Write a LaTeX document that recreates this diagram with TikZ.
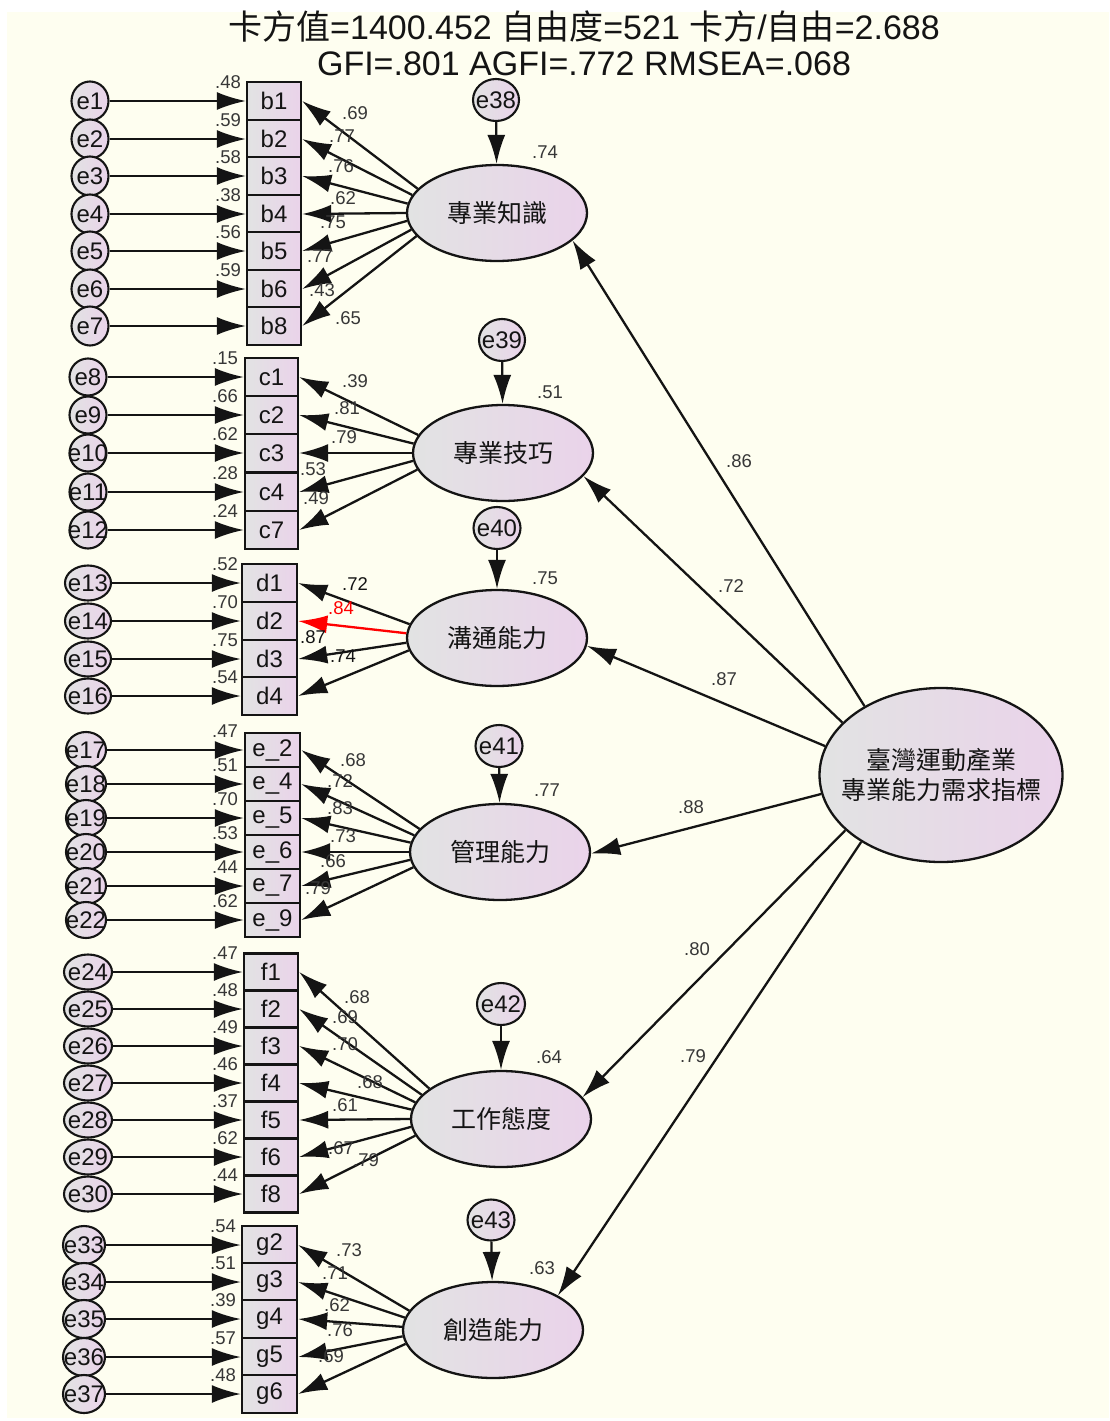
\documentclass[tikz,border=0pt]{standalone}
\usepackage{fontspec}
\setmainfont{Liberation Sans}
\newfontfamily\cjk{Noto Sans CJK TC}
\usetikzlibrary{shapes.geometric,arrows.meta}
\definecolor{paper}{HTML}{FEFEF0}
\definecolor{fillA}{HTML}{E2E3E3}
\definecolor{fillB}{HTML}{EAD3EA}
\definecolor{ink}{HTML}{141414}
\tikzset{
  link/.style={line width=2.3pt,draw=ink,-{Latex[length=29pt,width=18pt]}},
  num/.style={font=\fontsize{18.5}{18.5}\selectfont,text=ink!85,inner sep=0pt},
  obs/.style={draw=ink,line width=2.4pt,left color=fillA,right color=fillB,inner sep=0pt,font=\fontsize{24}{24}\selectfont,text=ink},
  errc/.style={ellipse,draw=ink,line width=2.1pt,left color=fillA,right color=fillB,inner sep=0pt,
    label={[font=\fontsize{24}{24}\selectfont,text=ink,inner sep=0pt]center:#1}},
  latent/.style={ellipse,draw=ink,line width=2.3pt,left color=fillA,right color=fillB,inner sep=0pt,
    minimum width=180,minimum height=96,font=\cjk\fontsize{25}{25}\selectfont,text=ink},
}
\begin{document}
\begin{tikzpicture}[x=1pt,y=-1pt]
\useasboundingbox (0,0) rectangle (1109,1421);
\fill[paper] (7,12) rectangle (1109,1418);

% title
\node[font=\fontsize{34}{34}\selectfont,text=ink] (title1) at (584,27) {{\cjk 卡方值}=1400.452 {\cjk 自由度}=521 {\cjk 卡方}/{\cjk 自由}=2.688};
\node[font=\fontsize{34}{34}\selectfont,text=ink] (title2) at (584,64) {GFI=.801 AGFI=.772 RMSEA=.068};

% second order factor
\node[ellipse,draw=ink,line width=2.3pt,left color=fillA,right color=fillB,minimum width=243,minimum height=174,inner sep=0pt] (G) at (941,775) {};
\node[font=\cjk\fontsize{25}{30}\selectfont,align=center,text=ink] (Gtxt) at (G) {臺灣運動產業\\專業能力需求指標};

% first order factors
\node[latent] (F1) at (497,213) {專業知識};
\node[latent] (F2) at (503,453) {專業技巧};
\node[latent] (F3) at (497,638) {溝通能力};
\node[latent] (F4) at (500,852) {管理能力};
\node[latent] (F5) at (501,1119) {工作態度};
\node[latent] (F6) at (493,1330) {創造能力};

\node[errc=e38,minimum width=46,minimum height=42] (e38) at (496,100) {};
\node[errc=e39,minimum width=46,minimum height=42] (e39) at (502,340) {};
\node[errc=e40,minimum width=47,minimum height=42] (e40) at (497,528) {};
\node[errc=e41,minimum width=47,minimum height=42] (e41) at (499,746) {};
\node[errc=e42,minimum width=48,minimum height=42] (e42) at (501,1004) {};
\node[errc=e43,minimum width=47,minimum height=41] (e43) at (491,1220) {};
\draw[link] (e38) -- (F1);
\draw[link] (e39) -- (F2);
\draw[link] (e40) -- (F3);
\draw[link] (e41) -- (F4);
\draw[link] (e42) -- (F5);
\draw[link] (e43) -- (F6);
\node[num] (R1) at (545,152) {.74};
\node[num] (R2) at (550,392) {.51};
\node[num] (R3) at (545,578) {.75};
\node[num] (R4) at (547,790) {.77};
\node[num] (R5) at (549,1057) {.64};
\node[num] (R6) at (542,1268) {.63};

% structural paths
\draw[link] (G.138) -- (F1.-20);
\draw[link] (G.152) -- (F2.-16);
\draw[link] (G.166) -- (F3.-5);
\draw[link] (G.189) -- (F4.-1);
\draw[link] (G.210) -- (F5.15);
\draw[link] (G.220) -- (F6.28);
\node[num] (g1) at (739,461) {.86};
\node[num] (g2) at (731,586) {.72};
\node[num] (g3) at (724,679) {.87};
\node[num] (g4) at (691,807) {.88};
\node[num] (g5) at (697,949) {.80};
\node[num] (g6) at (693,1056) {.79};

% indicators
\foreach \e/\v/\txt/\y/\r in {e1/b1/b1/101/.48,e2/b2/b2/139/.59,e3/b3/b3/176/.58,e4/b4/b4/214/.38,
    e5/b5/b5/251/.56,e6/b6/b6/289/.59,e7/b8/b8/326/}{
  \node[errc=\e,minimum width=37,minimum height=39] (\e) at (90,\y) {};
  \node[obs,minimum width=54,minimum height=37.5] (\v) at (274,\y) {\txt};
  \node[num] (r\v) at (228,\y-19) {\r};
  \pgfmathtruncatemacro\ang{180+0.15*(\y-213)}
  \draw[link] (\e) -- (\v);
  \draw[link] (F1.\ang) -- (\v.east);
}
\foreach \val/\x/\y in {.69/355/113,.77/342/136,.76/341/166,.62/343/198,.75/333/222,.77/320/256,.43/322/290,.65/348/318}
  \node[num] at (\x,\y) {\val};

\foreach \e/\v/\txt/\y/\r in {e8/c1/c1/377/.15,e9/c2/c2/415/.66,e10/c3/c3/453/.62,e11/c4/c4/492/.28,e12/c7/c7/530/.24}{
  \node[errc=\e,minimum width=37,minimum height=37] (\e) at (88,\y) {};
  \node[obs,minimum width=53,minimum height=38.5] (\v) at (271.5,\y) {\txt};
  \node[num] (r\v) at (225,\y-19) {\r};
  \pgfmathtruncatemacro\ang{180+0.15*(\y-453)}
  \draw[link] (\e) -- (\v);
  \draw[link] (F2.\ang) -- (\v.east);
}
\foreach \val/\x/\y in {.39/355/381,.81/347/408,.79/344/437,.53/313/469,.49/316/498}
  \node[num] at (\x,\y) {\val};

\foreach \e/\v/\txt/\y/\r/\col in {e13/d1/d1/583/.52/ink,e14/d2/d2/621/.70/red,e15/d3/d3/659/.75/ink,e16/d4/d4/696/.54/ink}{
  \node[errc=\e,minimum width=46,minimum height=35] (\e) at (88,\y) {};
  \node[obs,minimum width=55,minimum height=37.5] (\v) at (269.5,\y) {\txt};
  \node[num] (r\v) at (225,\y-19) {\r};
  \pgfmathtruncatemacro\ang{180+0.15*(\y-638)}
  \draw[link] (\e) -- (\v);
  \draw[link,draw=\col] (F3.\ang) -- (\v.east);
}
\foreach \val/\x/\y/\col in {.72/355/584/ink,.84/341/608/red,.87/313/637/ink,.74/343/656/ink}
  \node[num,text=\col] at (\x,\y) {\val};

\foreach \e/\v/\txt/\y/\r in {e17/eb2/e\_2/750/.47,e18/eb4/e\_4/784/.51,e19/eb5/e\_5/818/.70,
    e20/eb6/e\_6/852/.53,e21/eb7/e\_7/886/.44,e22/eb9/e\_9/920/.62}{
  \node[errc=\e,minimum width=40,minimum height=36] (\e) at (86,\y) {};
  \node[obs,minimum width=55,minimum height=34] (\v) at (272.5,\y) {\txt};
  \node[num] (r\v) at (225,\y-19) {\r};
  \pgfmathtruncatemacro\ang{180+0.15*(\y-852)}
  \draw[link] (\e) -- (\v);
  \draw[link] (F4.\ang) -- (\v.east);
}
\foreach \val/\x/\y in {.68/353/760,.72/340/781,.83/340/808,.73/343/836,.66/333/861,.79/318/888}
  \node[num] at (\x,\y) {\val};

\foreach \e/\v/\txt/\y/\r in {e24/f1/f1/972/.47,e25/f2/f2/1009/.48,e26/f3/f3/1046/.49,e27/f4/f4/1083/.46,
    e28/f5/f5/1120/.37,e29/f6/f6/1157/.62,e30/f8/f8/1194/.44}{
  \node[errc=\e,minimum width=48,minimum height=35] (\e) at (88,\y) {};
  \node[obs,minimum width=54,minimum height=37] (\v) at (271,\y) {\txt};
  \node[num] (r\v) at (225,\y-19) {\r};
  \pgfmathtruncatemacro\ang{180+0.15*(\y-1119)}
  \draw[link] (\e) -- (\v);
  \draw[link] (F5.\ang) -- (\v.east);
}
\foreach \val/\x/\y in {.68/357/997,.69/345/1017,.70/345/1044,.68/370/1082,.61/345/1105,.67/341/1148,.79/366/1160}
  \node[num] at (\x,\y) {\val};

\foreach \e/\v/\txt/\y/\r in {e33/g2/g2/1245/.54,e34/g3/g3/1282/.51,e35/g4/g4/1319/.39,e36/g5/g5/1357/.57,e37/g6/g6/1394/.48}{
  \node[errc=\e,minimum width=42,minimum height=38] (\e) at (84,\y) {};
  \node[obs,minimum width=55,minimum height=37.5] (\v) at (269.5,\y) {\txt};
  \node[num] (r\v) at (223,\y-19) {\r};
  \pgfmathtruncatemacro\ang{180+0.15*(\y-1330)}
  \draw[link] (\e) -- (\v);
  \draw[link] (F6.\ang) -- (\v.east);
}
\foreach \val/\x/\y in {.73/349/1250,.71/335/1273,.62/337/1305,.76/340/1330,.69/331/1356}
  \node[num] at (\x,\y) {\val};
\end{tikzpicture}
\end{document}
